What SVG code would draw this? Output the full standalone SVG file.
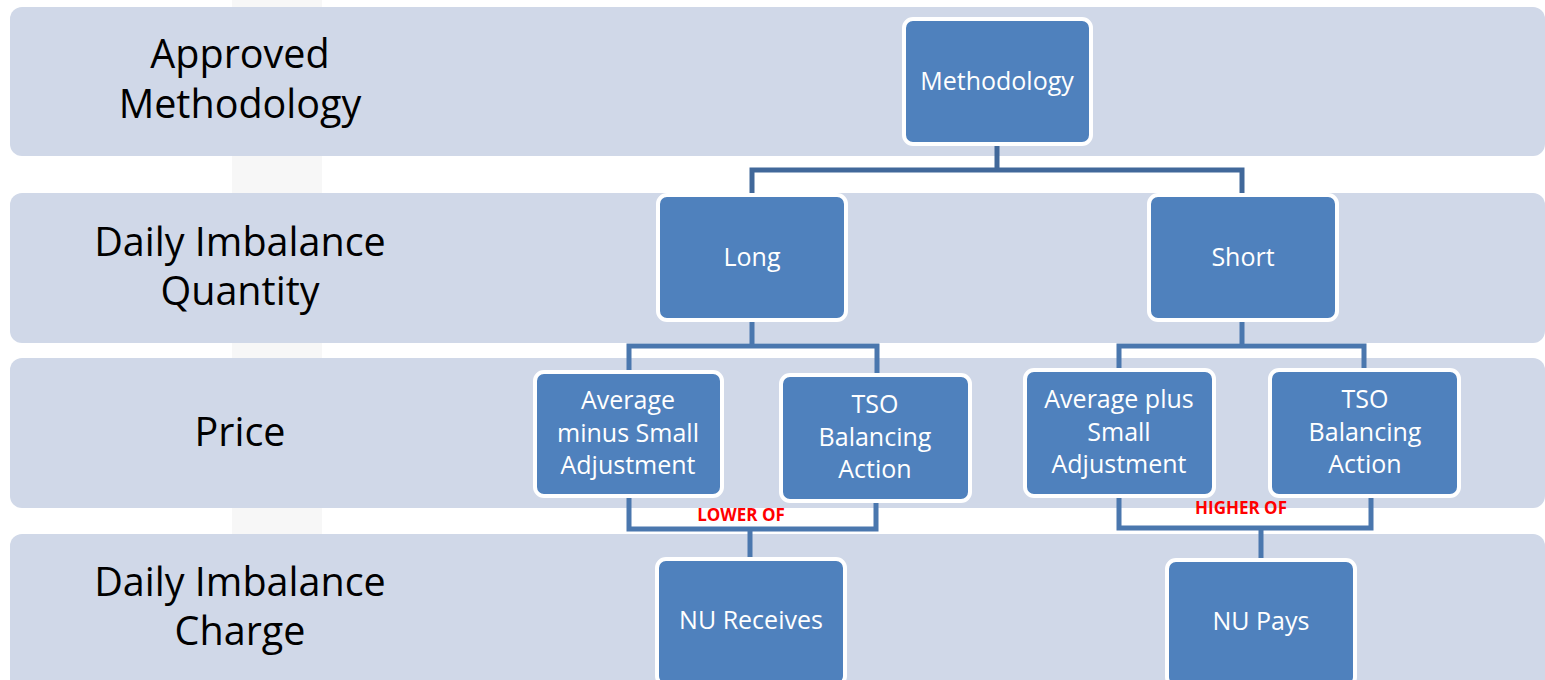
<svg xmlns="http://www.w3.org/2000/svg" width="1545" height="680" viewBox="0 0 1545 680">
<style>
.band{fill:#D0D8E8}
.lbl{font-family:"Open Sans","Liberation Sans",sans-serif;font-size:39.5px;fill:#000;text-anchor:middle}
.box{fill:#4F81BD;stroke:#fff;stroke-width:4}
.bt{font-family:"Open Sans","Liberation Sans",sans-serif;font-size:25px;fill:#fff;text-anchor:middle}
.con{fill:none;stroke:#4A77AE;stroke-width:5}
.red{font-family:"Open Sans","Liberation Sans",sans-serif;font-weight:bold;font-size:17px;fill:#FF0000;text-anchor:middle}
</style>
<rect x="0" y="0" width="1545" height="680" fill="#fff"/>
<rect x="232" y="0" width="90" height="680" fill="#F7F7F7"/>
<g id="bands">
<rect class="band" x="10" y="7" width="1535" height="149" rx="12"/>
<rect class="band" x="10" y="193" width="1535" height="150" rx="12"/>
<rect class="band" x="10" y="358" width="1535" height="150" rx="12"/>
<rect class="band" x="10" y="534" width="1535" height="160" rx="12"/>
</g>
<g id="row-labels">
<text class="lbl" x="240" y="68">Approved</text>
<text class="lbl" x="240" y="118">Methodology</text>
<text class="lbl" x="240" y="256">Daily Imbalance</text>
<text class="lbl" x="240" y="305">Quantity</text>
<text class="lbl" x="240" y="446">Price</text>
<text class="lbl" x="240" y="596">Daily Imbalance</text>
<text class="lbl" x="240" y="645">Charge</text>
</g>
<g id="connectors">
<path class="con" style="stroke:#41689A" d="M997,145 V170 M752,194 V170 H1242 V194"/>
<path class="con" d="M752,322 V346 M629,372 V346 H877 V376"/>
<path class="con" d="M1242,322 V346 M1119,370 V346 H1364 V370"/>
<path class="con" d="M629,498 V529 H876 V503 M750,529 V558"/>
<path class="con" d="M1119,498 V528 H1371 V498 M1261,528 V560"/>
<text class="red" x="741" y="521">LOWER OF</text>
<text class="red" x="1241" y="514">HIGHER OF</text>
</g>
<g id="n-methodology">
<rect class="box" x="904" y="19" width="187" height="125" rx="9"/>
<text class="bt" x="997" y="90">Methodology</text>
</g>
<g id="n-long">
<rect class="box" x="658" y="195" width="188" height="125" rx="9"/>
<text class="bt" x="752" y="266">Long</text>
</g>
<g id="n-short">
<rect class="box" x="1149" y="195" width="188" height="125" rx="9"/>
<text class="bt" x="1243" y="266">Short</text>
</g>
<g id="n-avg-minus">
<rect class="box" x="535" y="372" width="187" height="124" rx="9"/>
<text class="bt" x="628" y="409">Average</text>
<text class="bt" x="628" y="442">minus Small</text>
<text class="bt" x="628" y="474">Adjustment</text>
</g>
<g id="n-tso-left">
<rect class="box" x="781" y="375" width="189" height="126" rx="9"/>
<text class="bt" x="875" y="413">TSO</text>
<text class="bt" x="875" y="446">Balancing</text>
<text class="bt" x="875" y="478">Action</text>
</g>
<g id="n-avg-plus">
<rect class="box" x="1025" y="370" width="189" height="126" rx="9"/>
<text class="bt" x="1119" y="408">Average plus</text>
<text class="bt" x="1119" y="441">Small</text>
<text class="bt" x="1119" y="473">Adjustment</text>
</g>
<g id="n-tso-right">
<rect class="box" x="1270" y="370" width="189" height="126" rx="9"/>
<text class="bt" x="1365" y="408">TSO</text>
<text class="bt" x="1365" y="441">Balancing</text>
<text class="bt" x="1365" y="473">Action</text>
</g>
<g id="n-nu-receives">
<rect class="box" x="657" y="559" width="188" height="126" rx="9"/>
<text class="bt" x="751" y="629">NU Receives</text>
</g>
<g id="n-nu-pays">
<rect class="box" x="1167" y="560" width="188" height="126" rx="9"/>
<text class="bt" x="1261" y="630">NU Pays</text>
</g>
</svg>
